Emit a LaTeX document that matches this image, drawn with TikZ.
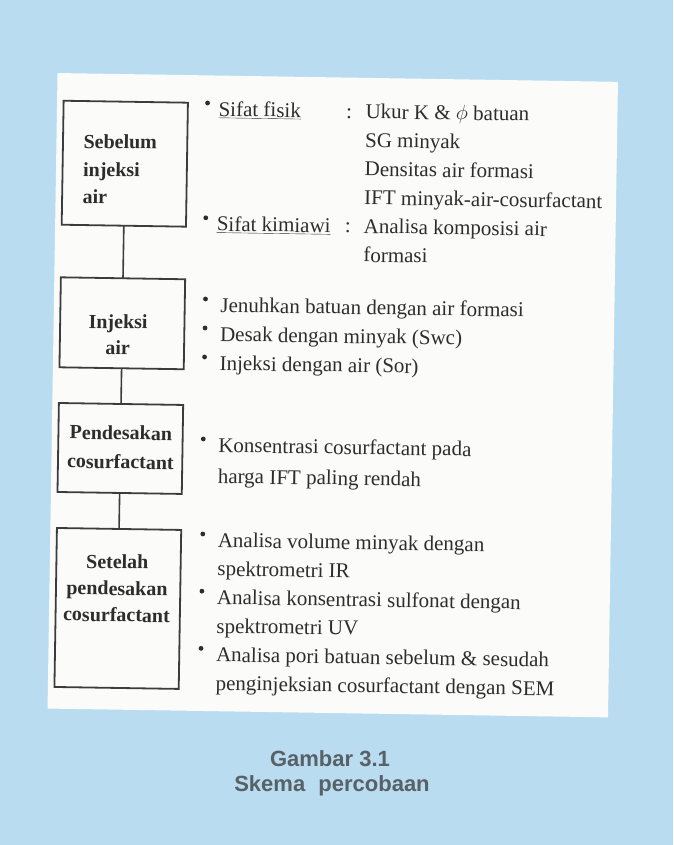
\documentclass[tikz,border=0pt]{standalone}
\usepackage{fontspec}
\setmainfont{Liberation Serif}
\newfontfamily\capfont{Liberation Sans}
\definecolor{bgblue}{RGB}{185,220,241}
\definecolor{panelw}{RGB}{251,252,250}
\definecolor{ink}{RGB}{45,45,45}
\definecolor{boxline}{RGB}{60,60,60}
\definecolor{capgray}{RGB}{88,98,102}
\tikzset{
  stagebox/.style={draw=boxline, line width=1.8pt, minimum width=124.3pt, inner sep=0pt, outer sep=0pt},
  conn/.style={draw=boxline, line width=1.6pt},
  boxtxt/.style={font=\fontsize{20}{27}\selectfont\bfseries, text=ink, inner sep=0pt},
  bodytxt/.style={font=\fontsize{21}{28}\selectfont, text=ink, inner sep=0pt, anchor=base west},
  bulletdot/.style={circle, fill=ink, minimum size=4.8pt, inner sep=0pt},
  captxt/.style={font=\capfont\bfseries\fontsize{22}{26}\selectfont, text=capgray, inner sep=0pt, anchor=base},
}
\begin{document}
\begin{tikzpicture}[x=1pt,y=-1pt]
\fill[bgblue] (0,0) rectangle (673,845);
\useasboundingbox (0,0) rectangle (673,845);
\begin{scope}[rotate around={-0.9:(333,395)}, transform shape]
  \fill[panelw] (52.5,77.4) rectangle (613,713);
  % stage boxes
  \node[stagebox, minimum height=124pt] (b1) at (121.2,167) {};
  \node[stagebox, minimum height=90pt]  (b2) at (121.2,326.6) {};
  \node[stagebox, minimum height=89pt]  (b3) at (121.2,451.8) {};
  \node[stagebox, minimum height=159pt] (b4) at (121.2,611.8) {};
  \draw[conn] (b1.south) -- (b2.north);
  \draw[conn] (b2.south) -- (b3.north);
  \draw[conn] (b3.south) -- (b4.north);
  % box texts
  \node[boxtxt, anchor=base west] (t1a) at (79.5,152) {Sebelum};
  \node[boxtxt, anchor=base west] (t1b) at (79.5,180) {injeksi};
  \node[boxtxt, anchor=base west] (t1c) at (79.5,207) {air};
  \node[boxtxt, anchor=base] (t2a) at (117,332) {Injeksi};
  \node[boxtxt, anchor=base] (t2b) at (117,358) {air};
  \node[boxtxt, anchor=base] (t3a) at (121.5,443) {Pendesakan};
  \node[boxtxt, anchor=base] (t3b) at (121.5,472) {cosurfactant};
  \node[boxtxt, anchor=base] (t4a) at (120,572) {Setelah};
  \node[boxtxt, anchor=base] (t4b) at (120,598.5) {pendesakan};
  \node[boxtxt, anchor=base] (t4c) at (120,625) {cosurfactant};
  % block 1
  \node[bulletdot] (d1a) at (203,105) {};
  \node[bodytxt] (s1a) at (214,118) {\underline{Sifat fisik}};
  \node[bodytxt] (c1a) at (341.5,118) {:};
  \node[bodytxt] (v1a) at (361,118) {Ukur K \& $\phi$ batuan};
  \node[bodytxt] (v1b) at (361,146.7) {SG minyak};
  \node[bodytxt] (v1c) at (361,175.4) {Densitas air formasi};
  \node[bodytxt] (v1d) at (361,204.1) {IFT minyak-air-cosurfactant};
  \node[bulletdot] (d1b) at (203,219.8) {};
  \node[bodytxt] (s1b) at (214,232.8) {\underline{Sifat kimiawi}};
  \node[bodytxt] (c1b) at (342,232.8) {:};
  \node[bodytxt] (v1e) at (361,232.8) {Analisa komposisi air};
  \node[bodytxt] (v1f) at (361,261.5) {formasi};
  % block 2
  \node[bulletdot] (d2a) at (204,301) {};
  \node[bodytxt] (l2a) at (219,314) {Jenuhkan batuan dengan air formasi};
  \node[bulletdot] (d2b) at (204,330) {};
  \node[bodytxt] (l2b) at (219,343) {Desak dengan minyak (Swc)};
  \node[bulletdot] (d2c) at (204,359) {};
  \node[bodytxt] (l2c) at (219,372) {Injeksi dengan air (Sor)};
  % block 3
  \node[bulletdot] (d3a) at (204,441) {};
  \node[bodytxt] (l3a) at (219,454) {Konsentrasi cosurfactant pada};
  \node[bodytxt] (l3b) at (219,485) {harga IFT paling rendah};
  % block 4
  \node[bulletdot] (d4a) at (205,536) {};
  \node[bodytxt] (l4a) at (220,549) {Analisa volume minyak dengan};
  \node[bodytxt] (l4b) at (220,577.6) {spektrometri IR};
  \node[bulletdot] (d4b) at (205,593.2) {};
  \node[bodytxt] (l4c) at (220,606.2) {Analisa konsentrasi sulfonat dengan};
  \node[bodytxt] (l4d) at (220,634.8) {spektrometri UV};
  \node[bulletdot] (d4c) at (205,650.4) {};
  \node[bodytxt] (l4e) at (220,663.4) {Analisa pori batuan sebelum \& sesudah};
  \node[bodytxt] (l4f) at (220,692) {penginjeksian cosurfactant dengan SEM};
\end{scope}
\node[captxt] (cap1) at (330,766) {Gambar 3.1};
\node[captxt] (cap2) at (332,791) {Skema\hspace{0.6em}percobaan};
\end{tikzpicture}
\end{document}
